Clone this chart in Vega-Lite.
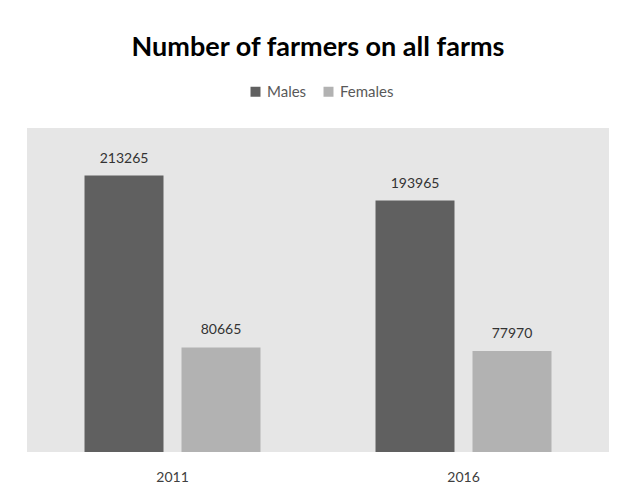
{
  "$schema": "https://vega.github.io/schema/vega-lite/v6.json",
  "width": 582,
  "height": 324,
  "autosize": {"type": "none"},
  "padding": {"left": 27, "top": 128, "right": 11, "bottom": 41},
  "background": "white",
  "title": {
    "text": "Number of farmers on all farms",
    "font": "Lato",
    "fontSize": 27,
    "fontWeight": "bold",
    "color": "#000000",
    "anchor": "middle",
    "orient": "top",
    "frame": "group",
    "offset": 22
  },
  "data": {
    "values": [
      {"year": "2011", "sex": "Males", "value": 213265},
      {"year": "2011", "sex": "Females", "value": 80665},
      {"year": "2016", "sex": "Males", "value": 193965},
      {"year": "2016", "sex": "Females", "value": 77970}
    ]
  },
  "encoding": {
    "x": {
      "field": "year",
      "type": "nominal",
      "scale": {"paddingInner": 0, "paddingOuter": 0},
      "axis": {
        "title": null,
        "domain": false,
        "ticks": false,
        "labelAngle": 0,
        "labelFont": "Lato",
        "labelFontSize": 14,
        "labelColor": "#404040",
        "labelPadding": 18
      }
    },
    "xOffset": {
      "field": "sex",
      "type": "nominal",
      "sort": ["Males", "Females"],
      "scale": {"paddingInner": 0.1856, "paddingOuter": 0.593}
    },
    "y": {
      "field": "value",
      "type": "quantitative",
      "scale": {"domain": [0, 250000], "nice": false},
      "axis": null
    }
  },
  "layer": [
    {
      "mark": {"type": "bar"},
      "encoding": {
        "color": {
          "field": "sex",
          "type": "nominal",
          "sort": ["Males", "Females"],
          "scale": {"domain": ["Males", "Females"], "range": ["#606060", "#b2b2b2"]},
          "legend": {
            "title": null,
            "orient": "none",
            "direction": "horizontal",
            "legendX": 221,
            "legendY": -44,
            "symbolType": "square",
            "symbolSize": 100,
            "symbolStrokeWidth": 0,
            "labelFont": "Lato",
            "labelFontSize": 15,
            "labelColor": "#595959",
            "labelOffset": 4,
            "columnPadding": 14
          }
        }
      }
    },
    {
      "mark": {"type": "text", "dy": -17, "font": "Lato", "fontSize": 14, "color": "#333333"},
      "encoding": {
        "text": {"field": "value", "type": "quantitative", "format": "d"}
      }
    }
  ],
  "config": {
    "view": {"fill": "#e6e6e6", "stroke": null}
  }
}
